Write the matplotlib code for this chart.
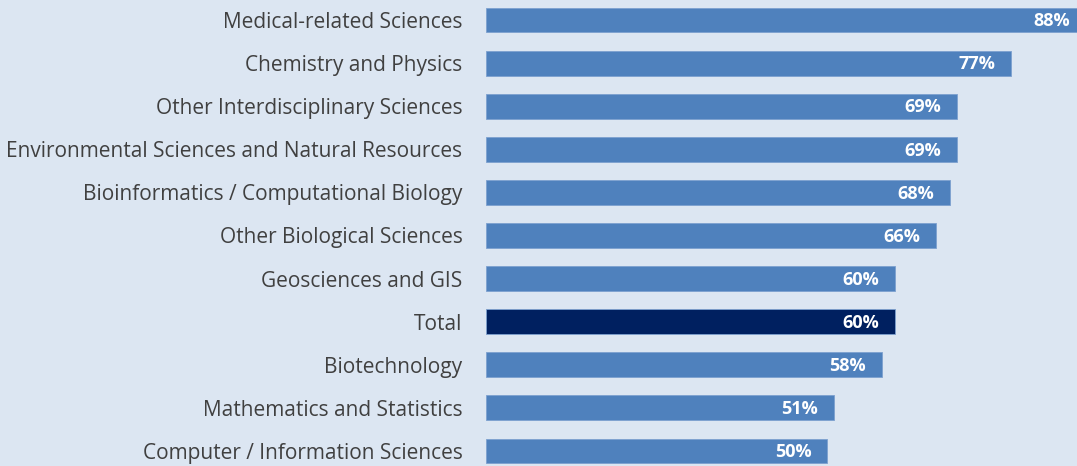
import matplotlib.pyplot as plt

categories = [
    "Medical-related Sciences",
    "Chemistry and Physics",
    "Other Interdisciplinary Sciences",
    "Environmental Sciences and Natural Resources",
    "Bioinformatics / Computational Biology",
    "Other Biological Sciences",
    "Geosciences and GIS",
    "Total",
    "Biotechnology",
    "Mathematics and Statistics",
    "Computer / Information Sciences",
]
values = [88, 77, 69, 69, 68, 66, 60, 60, 58, 51, 50]

bg = "#dce6f2"
bar_color = "#4f81bd"
total_color = "#002060"

fig = plt.figure(figsize=(10.77, 4.66), dpi=100, facecolor=bg)
ax = fig.add_axes([486 / 1077, 0, 1 - 486 / 1077, 1])
ax.set_facecolor(bg)

colors = [total_color if c == "Total" else bar_color for c in categories]
y = range(len(categories))
ax.barh(y, values, height=0.58, color=colors, edgecolor="#7da0cf", linewidth=0.6)

for i, v in enumerate(values):
    ax.text(v - 2.3, i + 0.03, f"{v}%", ha="right", va="center", color="white",
            fontsize=13, fontweight="bold", family="Open Sans")

ax.set_xlim(0, 591 / 6.82)
ax.set_ylim(10 + 15 / 43.1, -20 / 43.1)
ax.set_yticks(list(y))
ax.set_yticklabels(categories, fontsize=15, family="Open Sans", color="#404040")
ax.tick_params(axis="y", length=0, pad=17)
ax.set_xticks([])
for s in ax.spines.values():
    s.set_visible(False)

fig.savefig("out.png", dpi=100, facecolor=bg)
